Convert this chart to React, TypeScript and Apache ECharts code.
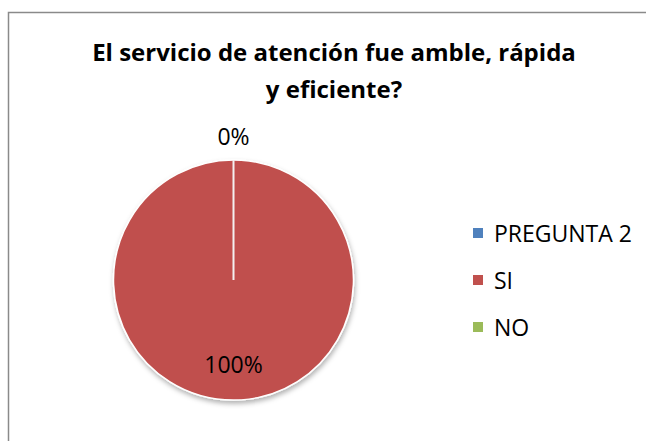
import React, { useEffect, useRef } from "react";
import * as echarts from "echarts";

const titleText = "El servicio de atención fue amble, rápida\ny eficiente?";
const categories = ["PREGUNTA 2", "SI", "NO"];
const values = [0, 100, 0];
const colors = ["#4F81BD", "#C0504D", "#9BBB59"];
const showLabel = [false, true, true];
const labelShift = [0, 21, -81];

const CX = 233.5;
const CY = 280;
const R = 120;

export default function App() {
  const ref = useRef<HTMLDivElement>(null);
  useEffect(() => {
    document.body.style.margin = "0";
    const chart = echarts.init(ref.current!, undefined, { renderer: "svg" });
    const font = "'Open Sans', 'Noto Sans', sans-serif";
    chart.setOption({
      animation: false,
      backgroundColor: "#ffffff",
      title: {
        text: titleText,
        left: 334,
        top: 33,
        padding: 0,
        textAlign: "center",
        textStyle: {
          fontFamily: font,
          fontWeight: "bold",
          fontSize: 24,
          lineHeight: 37,
          color: "#000000",
        },
      },
      legend: {
        orient: "vertical",
        left: 471,
        top: 221,
        padding: 0,
        itemWidth: 12,
        itemHeight: 12,
        itemGap: 23,
        icon: "rect",
        data: categories,
        textStyle: { fontFamily: font, fontSize: 23, lineHeight: 24, color: "#000000", padding: [0, 0, 0, 5] },
      },
      graphic: [
        {
          type: "rect",
          shape: { x: 8.5, y: 12.5, width: 700, height: 500 },
          style: { fill: "none", stroke: "#8a8a8a", lineWidth: 1.5 },
          z: -1,
        },
        {
          type: "line",
          shape: { x1: CX, y1: CY, x2: CX, y2: CY - R },
          style: { stroke: "#f4f0f0", lineWidth: 2 },
          z: 100,
        },
      ],
      series: [
        {
          type: "pie",
          center: [CX, CY],
          radius: R,
          startAngle: 90,
          clockwise: true,
          avoidLabelOverlap: false,
          itemStyle: {
            borderColor: "#ffffff",
            borderWidth: 1.5,
            shadowBlur: 5,
            shadowOffsetX: 1,
            shadowOffsetY: 3,
            shadowColor: "rgba(0,0,0,0.3)",
          },
          label: {
            position: "inside",
            formatter: "{d}%",
            fontFamily: font,
            fontSize: 23,
            color: "#000000",
          },
          labelLine: { show: false },
          labelLayout: (p: any) => ({ dy: labelShift[p.dataIndex] }),
          emphasis: { disabled: true },
          data: categories.map((name, i) => ({
            name,
            value: values[i],
            itemStyle: { color: colors[i] },
            label: { show: showLabel[i] },
          })),
        },
      ],
    });
    return () => chart.dispose();
  }, []);
  return <div ref={ref} style={{ width: 646, height: 441 }} />;
}
